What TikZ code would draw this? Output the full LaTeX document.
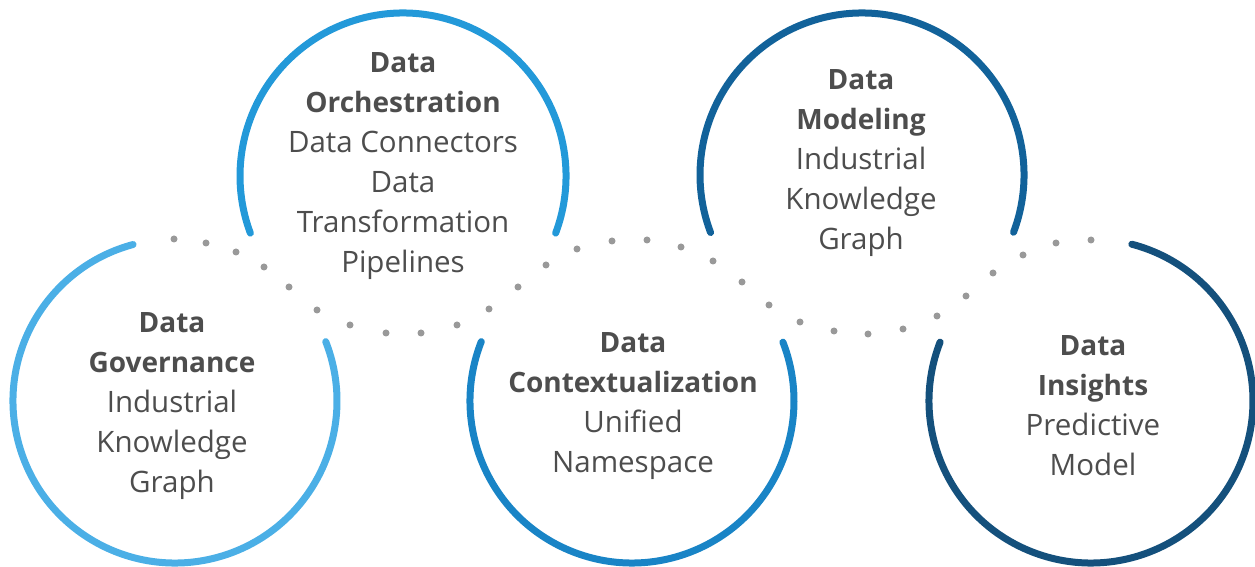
\documentclass[tikz,border=0pt]{standalone}
\usepackage{fontspec}
\setmainfont{Open Sans}
\definecolor{cA}{HTML}{4BAFE6}
\definecolor{cB}{HTML}{2399D9}
\definecolor{cC}{HTML}{1984C6}
\definecolor{cD}{HTML}{12629A}
\definecolor{cE}{HTML}{14507C}
\definecolor{txt}{HTML}{4D4D4D}
\definecolor{dotc}{HTML}{999999}
\newcommand{\ttl}[1]{{\fontsize{28}{40}\selectfont\bfseries #1}}
\begin{document}
\begin{tikzpicture}[x=1pt,y=1pt,
  ring/.style={line width=7pt,line cap=round},
  label/.style={inner sep=0pt,align=center,text=txt,font=\fontsize{29.5}{40}\selectfont},
  dotmark/.style={fill=dotc,draw=none}]
\useasboundingbox (0,0) rectangle (1255,567);
% centres
\coordinate (c1) at (175,166);
\coordinate (c2) at (403,391);
\coordinate (c3) at (632,166);
\coordinate (c4) at (862,392);
\coordinate (c5) at (1091,166);
% rings
\draw[ring,cA] ([shift={(105:162)}]c1) arc[start angle=105,end angle=381.5,radius=162];
\draw[ring,cB] ([shift={(-20.5:163)}]c2) arc[start angle=-20.5,end angle=200.5,radius=163];
\draw[ring,cC] ([shift={(158.5:162)}]c3) arc[start angle=158.5,end angle=381.3,radius=162];
\draw[ring,cD] ([shift={(-20.7:162)}]c4) arc[start angle=-20.7,end angle=200.8,radius=162];
\draw[ring,cE] ([shift={(158.7:162)}]c5) arc[start angle=158.7,end angle=435.4,radius=162];
% dots
\foreach \x/\y in {174/239,206/243,236/252,264/267,289/287,317/310,350/325,386/333,421/333,457/325,489/309,518/287,546/265,577/249,612/241,647/240,681/247,713/261,742/282,769/305,800/322,834/331,868/334,903/329,937/316,966/296,993/273,1023/255,1056/243,1091/240}
  \fill[dotmark] (\x,567-\y) circle[radius=3.5];
% labels
\node[label] (t1) at (172,161) {\ttl{Data}\\\ttl{Governance}\\Industrial\\Knowledge\\Graph};
\node[label] (t2) at (403,401) {\ttl{Data}\\\ttl{Orchestration}\\Data Connectors\\Data\\Transformation\\Pipelines};
\node[label] (t3) at (633,161) {\ttl{Data}\\\ttl{Contextualization}\\Unified\\Namespace};
\node[label] (t4) at (861,404) {\ttl{Data}\\\ttl{Modeling}\\Industrial\\Knowledge\\Graph};
\node[label] (t5) at (1093,161) {\ttl{Data}\\\ttl{Insights}\\Predictive\\Model};
\end{tikzpicture}
\end{document}
